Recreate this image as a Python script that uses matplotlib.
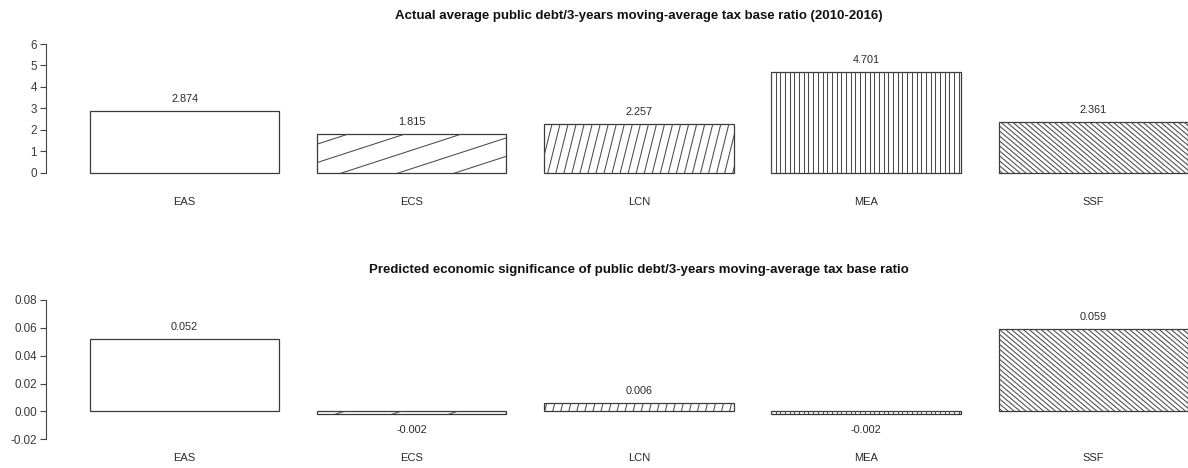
import numpy as np
import matplotlib
matplotlib.use("Agg")
import matplotlib.pyplot as plt
from matplotlib.lines import Line2D
from matplotlib.transforms import IdentityTransform

plt.rcParams['font.family'] = ['Liberation Sans', 'DejaVu Sans']

categories = ['EAS', 'ECS', 'LCN', 'MEA', 'SSF']
actual = [2.874, 1.815, 2.257, 4.701, 2.361]
predicted = [0.052, -0.002, 0.006, -0.002, 0.059]
top_ticks = [0, 1, 2, 3, 4, 5, 6]
bottom_ticks = [-0.02, 0.00, 0.02, 0.04, 0.06, 0.08]
title_top = "Actual average public debt/3-years moving-average tax base ratio (2010-2016)"
title_bottom = "Predicted economic significance of public debt/3-years moving-average tax base ratio"

# hatch style per bar (angle in degrees, perpendicular spacing in pixels)
hatch_angles = [None, 18, 76, 90, -40]
hatch_spacing = [None, 17.5, 7.8, 4.7, 3.8]

W, H = 1188, 468
DPI = 100
fig = plt.figure(figsize=(W / DPI, H / DPI), dpi=DPI)

EDGE = '#3a3a3a'
HATCH = '#4a4a4a'
TXT = '#2a2a2a'
TICK_TXT = '#3a3a3a'

positions = [0.2 + i * 1.2 + 0.5 for i in range(len(categories))]


def px_axes(ax_top_px, ax_bot_px):
    left = 46 / W
    width = (1188 - 46) / W
    bottom = 1 - ax_bot_px / H
    height = (ax_bot_px - ax_top_px) / H
    return fig.add_axes([left, bottom, width, height])


def add_hatch(ax, bar, angle, spacing):
    if angle is None:
        return
    x0, y0 = bar.get_x(), bar.get_y()
    x1, y1 = x0 + bar.get_width(), y0 + bar.get_height()
    pts = ax.transData.transform([[x0, y0], [x1, y0], [x1, y1], [x0, y1]])
    a = np.deg2rad(angle)
    d = np.array([np.cos(a), np.sin(a)])
    n = np.array([-np.sin(a), np.cos(a)])
    proj_n = pts @ n
    proj_d = pts @ d
    kmin = int(np.floor(proj_n.min() / spacing)) - 1
    kmax = int(np.ceil(proj_n.max() / spacing)) + 1
    tmin, tmax = proj_d.min() - 5, proj_d.max() + 5
    for k in range(kmin, kmax + 1):
        base = k * spacing * n
        p0 = base + tmin * d
        p1 = base + tmax * d
        ln = Line2D([p0[0], p1[0]], [p0[1], p1[1]], transform=IdentityTransform(),
                    color=HATCH, lw=0.75, antialiased=True)
        ln.set_clip_path(bar)
        fig.add_artist(ln)


def make_panel(ax, values, ylim, ticks, ticklabels, ybounds, name_offset_px, title, title_y_px):
    ax.set_xlim(-0.032, 6.0)
    ax.set_ylim(*ylim)
    bars = ax.bar(positions, values, width=1.0, bottom=0, facecolor='white',
                  edgecolor=EDGE, linewidth=0.9, zorder=2)
    for b, ang, sp in zip(bars, hatch_angles, hatch_spacing):
        add_hatch(ax, b, ang, sp)
    for b, v, x in zip(bars, values, positions):
        if v >= 0:
            ax.annotate(f"{v:.3f}", xy=(x, v), xytext=(0, 12 * 0.72), textcoords='offset points',
                        ha='center', va='center', fontsize=7.8, color=TXT)
        else:
            ax.annotate(f"{v:.3f}", xy=(x, v), xytext=(0, -16 * 0.72), textcoords='offset points',
                        ha='center', va='center', fontsize=7.8, color=TXT)
    for x, c in zip(positions, categories):
        ax.annotate(c, xy=(x, 0), xytext=(0, -name_offset_px * 0.72), textcoords='offset points',
                    ha='center', va='center', fontsize=8.0, color=TXT)
    for s in ['top', 'right', 'bottom']:
        ax.spines[s].set_visible(False)
    ax.spines['left'].set_bounds(*ybounds)
    ax.spines['left'].set_color('#444444')
    ax.spines['left'].set_linewidth(0.8)
    ax.set_xticks([])
    ax.set_yticks(ticks)
    ax.set_yticklabels(ticklabels)
    ax.tick_params(axis='y', direction='out', length=4, width=0.8, color='#444444',
                   labelsize=8.4, labelcolor=TICK_TXT, pad=2.5)
    ax.patch.set_alpha(0)
    fig.text(639 / W, 1 - title_y_px / H, title, ha='center', va='center',
             fontsize=9.5, fontweight='bold', color='#111111')


ax1 = px_axes(38.9, 177.8)
make_panel(ax1, actual, (-0.24, 6.24), top_ticks, [str(t) for t in top_ticks], (0, 6),
           29.5, title_top, 16)

ax2 = px_axes(294.4, 444.8)
make_panel(ax2, predicted, (-0.024, 0.084), bottom_ticks, [f"{t:.2f}" for t in bottom_ticks],
           (-0.02, 0.08), 47, title_bottom, 270)

fig.savefig("out.png", dpi=DPI, facecolor='white')
